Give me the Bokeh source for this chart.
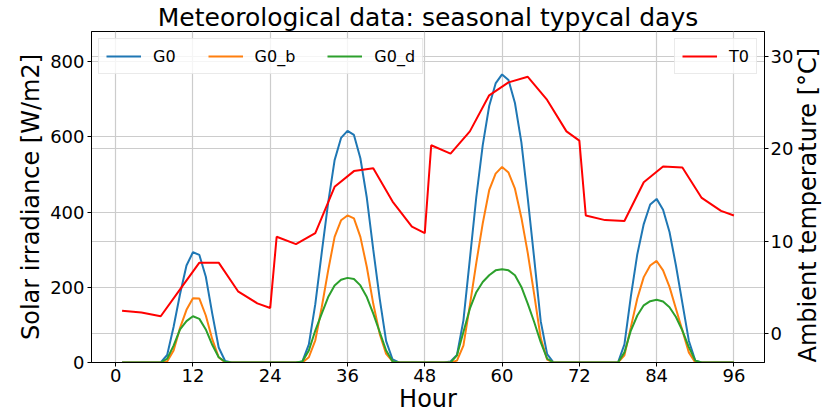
import math
from bokeh.plotting import figure
from bokeh.models import Range1d, LinearAxis, Legend, LegendItem, FixedTicker, Grid
from bokeh.embed import file_html
from bokeh.resources import INLINE

# ---- data ----
hours = list(range(1, 97))

g0 = [0, 0, 0, 0, 0, 0, 0, 20, 95, 182, 258, 293, 286, 228, 130, 40, 4, 0, 0, 0, 0, 0, 0, 0,
      0, 0, 0, 0, 3, 48, 155, 292, 425, 538, 597, 616, 605, 543, 438, 300, 170, 57, 8, 0, 0, 0, 0, 0,
      0, 0, 0, 3, 20, 112, 275, 440, 578, 682, 742, 766, 751, 690, 585, 435, 275, 110, 22, 0, 0, 0, 0, 0,
      0, 0, 0, 0, 0, 0, 48, 176, 288, 368, 420, 435, 406, 347, 258, 158, 58, 5, 0, 0, 0, 0, 0, 0]

g0_b = [0, 0, 0, 0, 0, 0, 0, 3, 32, 92, 140, 171, 170, 125, 62, 14, 0, 0, 0, 0, 0, 0, 0, 0,
        0, 0, 0, 0, 0, 14, 59, 147, 245, 334, 378, 391, 383, 334, 254, 156, 76, 23, 3, 0, 0, 0, 0, 0,
        0, 0, 0, 0, 5, 45, 152, 265, 370, 458, 502, 520, 505, 462, 385, 290, 180, 65, 8, 0, 0, 0, 0, 0,
        0, 0, 0, 0, 0, 0, 19, 94, 170, 227, 258, 270, 245, 201, 143, 85, 27, 0, 0, 0, 0, 0, 0, 0]

g0_d = [0, 0, 0, 0, 0, 0, 0, 10, 45, 88, 110, 123, 116, 88, 47, 14, 2, 0, 0, 0, 0, 0, 0, 0,
        0, 0, 0, 0, 3, 32, 85, 130, 174, 205, 220, 225, 222, 205, 174, 130, 81, 32, 3, 0, 0, 0, 0, 0,
        0, 0, 0, 0, 19, 81, 143, 187, 214, 232, 245, 248, 245, 232, 201, 156, 107, 54, 10, 0, 0, 0, 0, 0,
        0, 0, 0, 0, 0, 0, 27, 85, 125, 152, 163, 167, 162, 147, 121, 85, 41, 5, 0, 0, 0, 0, 0, 0]

t_hours = [1, 4, 7, 10, 13, 16, 19, 22, 24,
           25, 28, 31, 34, 37, 40, 43, 46, 48,
           49, 52, 55, 58, 61, 64, 67, 70, 72,
           73, 76, 79, 82, 85, 88, 91, 94, 96]
t0 = [2.5, 2.3, 1.9, 4.8, 7.7, 7.7, 4.6, 3.3, 2.8,
      10.5, 9.7, 10.9, 15.9, 17.6, 17.9, 14.3, 11.6, 10.9,
      20.4, 19.5, 21.9, 25.8, 27.2, 27.8, 25.3, 21.9, 20.9,
      12.8, 12.3, 12.2, 16.4, 18.1, 18.0, 14.7, 13.3, 12.8]

x_ticks = [0, 12, 24, 36, 48, 60, 72, 84, 96]
y_ticks = [0, 200, 400, 600, 800]
t_ticks = [0, 10, 20, 30]

FONT = "DejaVu Sans"
GRID = "#cccccc"

p = figure(width=839, height=419,
           x_range=Range1d(-3.75, 100.75), y_range=Range1d(0, 880),
           output_backend="svg", toolbar_location=None,
           title="Meteorological data: seasonal typycal days",
           min_border_left=91, min_border_right=61, min_border_top=0, min_border_bottom=57)
p.extra_y_ranges = {"temp": Range1d(-3.1, 32.7)}

p.title.text_font = FONT
p.title.text_font_size = "25px"
p.title.text_font_style = "normal"
p.title.align = "center"
p.title.text_color = "black"
p.title.standoff = 0
p.title.offset = 0
p.title.text_line_height = 1.0

p.outline_line_color = "black"
p.outline_line_width = 1
p.background_fill_color = "white"
p.border_fill_color = "white"

def style_axis(ax):
    ax.axis_line_color = "black"
    ax.major_tick_line_color = "black"
    ax.major_tick_out = 4
    ax.major_tick_in = 0
    ax.minor_tick_line_color = None
    ax.major_label_text_font = FONT
    ax.major_label_text_font_size = "18px"
    ax.major_label_text_color = "black"
    ax.major_label_standoff = 3
    ax.axis_label_text_font = FONT
    ax.axis_label_text_font_size = "24px"
    ax.axis_label_text_font_style = "normal"
    ax.axis_label_text_color = "black"
    ax.axis_label_standoff = 2

p.xaxis.ticker = FixedTicker(ticks=x_ticks)
p.yaxis.ticker = FixedTicker(ticks=y_ticks)
p.xaxis.axis_label = "Hour"
p.yaxis.axis_label = "Solar irradiance [W/m2]"
style_axis(p.xaxis[0])
style_axis(p.yaxis[0])
p.xaxis.axis_label_standoff = 0
p.xaxis.major_label_standoff = 2

p.xgrid.grid_line_color = GRID
p.ygrid.grid_line_color = GRID
p.xgrid.grid_line_width = 1.2
p.ygrid.grid_line_width = 1.2

tax = LinearAxis(y_range_name="temp", ticker=FixedTicker(ticks=t_ticks),
                 axis_label="Ambient temperature [°C]")
style_axis(tax)
tax.axis_label_orientation = math.pi / 2
tax.axis_label_align = "start"
tax.axis_label_standoff = 12
tax.axis_label_text_line_height = 1.0
tax.major_label_standoff = 2
p.add_layout(tax, "right")

tgrid = Grid(dimension=1, ticker=tax.ticker, y_range_name="temp",
             grid_line_color=GRID, grid_line_width=1.2)
p.add_layout(tgrid)

r0 = p.line(hours, g0, line_color="#1f77b4", line_width=2)
r1 = p.line(hours, g0_b, line_color="#ff7f0e", line_width=2)
r2 = p.line(hours, g0_d, line_color="#2ca02c", line_width=2)
r3 = p.line(t_hours, t0, line_color="red", line_width=2, y_range_name="temp")

def style_legend(lg):
    lg.orientation = "horizontal"
    lg.label_text_font = FONT
    lg.label_text_font_size = "16px"
    lg.label_text_color = "black"
    lg.glyph_width = 35
    lg.glyph_height = 20
    lg.label_standoff = 12
    lg.spacing = 32
    lg.padding = 7
    lg.margin = 7
    lg.border_line_color = "#d5d5d5"
    lg.border_line_width = 1
    lg.background_fill_color = "white"
    lg.background_fill_alpha = 0.8

leg1 = Legend(items=[LegendItem(label="G0", renderers=[r0]),
                     LegendItem(label="G0_b", renderers=[r1]),
                     LegendItem(label="G0_d", renderers=[r2])],
              location="top_left")
style_legend(leg1)
leg2 = Legend(items=[LegendItem(label="T0", renderers=[r3])], location="top_right")
style_legend(leg2)
p.add_layout(leg1)
p.add_layout(leg2)

open("out.html", "w").write(file_html(p, INLINE))
